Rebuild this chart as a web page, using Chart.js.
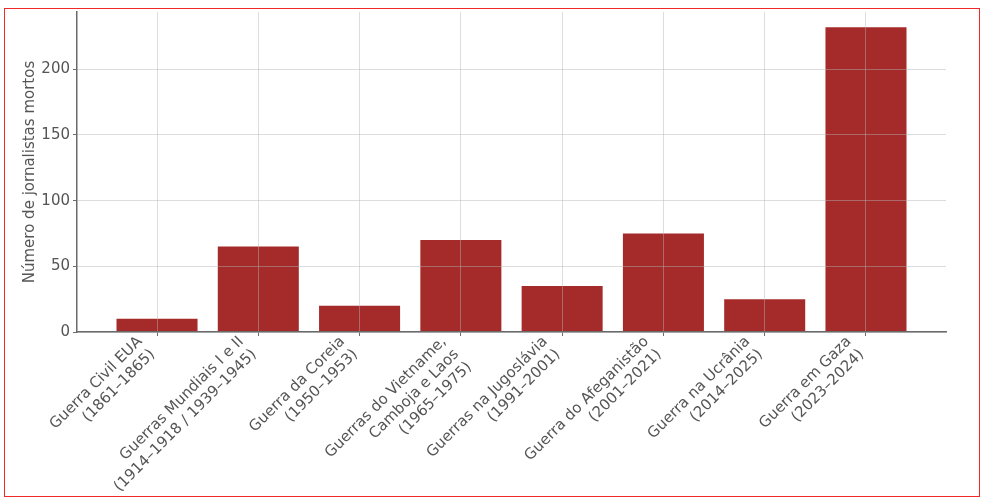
<!DOCTYPE html>
<html>
<head>
<meta charset="utf-8">
<script src="https://cdn.jsdelivr.net/npm/chart.js@4"></script>
<style>
  html, body { margin: 0; padding: 0; background: #fff; }
  #wrap { position: relative; width: 988px; height: 501px; }
  #frame { position: absolute; left: 4px; top: 8px; width: 974px; height: 487px; border: 1px solid #f02a2a; pointer-events: none; }
</style>
</head>
<body>
<div id="wrap">
  <canvas id="chart" width="988" height="501"></canvas>
  <div id="frame"></div>
</div>
<script>
const wars = [
  ['Guerra Civil EUA', '(1861–1865)'],
  ['Guerras Mundiais I e II', '(1914–1918 / 1939–1945)'],
  ['Guerra da Coreia', '(1950–1953)'],
  ['Guerras do Vietname,', 'Camboja e Laos', '(1965–1975)'],
  ['Guerras na Jugoslávia', '(1991–2001)'],
  ['Guerra do Afeganistão', '(2001–2021)'],
  ['Guerra na Ucrânia', '(2014–2025)'],
  ['Guerra em Gaza', '(2023–2024)']
];
const journalistsKilled = [10, 65, 20, 70, 35, 75, 25, 232];
const yTicks = [0, 50, 100, 150, 200];

const textColor = '#555';
const axisColor = '#6a6a6a';
const gridColor = 'rgba(180,180,180,0.45)';

const ctx = document.getElementById('chart').getContext('2d');
new Chart(ctx, {
  type: 'bar',
  data: {
    datasets: [{
      data: journalistsKilled.map((v, i) => ({ x: i, y: v })),
      backgroundColor: '#a52a2a',
      borderWidth: 0,
      barPercentage: 0.8,
      categoryPercentage: 1
    }]
  },
  options: {
    responsive: false,
    animation: false,
    layout: { padding: { top: 12, right: 42, left: 0, bottom: 0 } },
    plugins: { legend: { display: false }, tooltip: { enabled: false } },
    scales: {
      x: {
        type: 'linear',
        min: -0.79,
        max: 7.79,
        offset: false,
        afterBuildTicks: scale => { scale.ticks = wars.map((_, i) => ({ value: i })); },
        afterFit: scale => { scale.height = 501 - 332; },
        ticks: {
          callback: v => wars[v],
          minRotation: 45,
          maxRotation: 45,
          autoSkip: false,
          padding: -3,
          labelOffset: -17,
          color: textColor,
          font: { family: 'DejaVu Sans', size: 15 }
        },
        grid: {
          z: 1,
          offset: false,
          color: gridColor,
          tickColor: axisColor,
          tickLength: 4
        },
        border: { z: 2, color: axisColor, width: 1.5 }
      },
      y: {
        min: 0,
        max: 243.6,
        afterBuildTicks: scale => { scale.ticks = yTicks.map(v => ({ value: v })); },
        afterFit: scale => { scale.width = 77; },
        ticks: {
          padding: 3,
          color: textColor,
          font: { family: 'DejaVu Sans', size: 15 }
        },
        grid: {
          z: 1,
          color: gridColor,
          tickColor: axisColor,
          tickLength: 4
        },
        border: { z: 2, color: axisColor, width: 1.5 },
        title: {
          display: true,
          text: 'Número de jornalistas mortos',
          color: textColor,
          padding: { top: 21, bottom: 0 },
          font: { family: 'DejaVu Sans', size: 15 }
        }
      }
    }
  }
});
</script>
</body>
</html>
